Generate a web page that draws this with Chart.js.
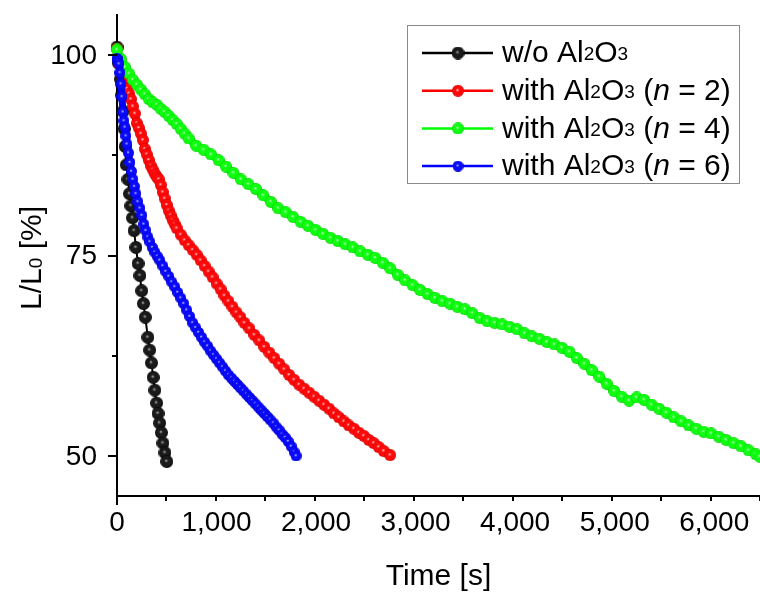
<!DOCTYPE html>
<html>
<head>
<meta charset="utf-8">
<script src="https://cdn.jsdelivr.net/npm/chart.js@4.4.1/dist/chart.umd.min.js"></script>
<style>
  html, body { margin: 0; padding: 0; background: #fff; }
  #wrap { width: 760px; height: 592px; }
</style>
</head>
<body>
<div id="wrap"><canvas id="decay" width="760" height="592"></canvas></div>
<script>
// time [s] vs relative luminance L/L0 [%]
const bareTime = [0, 18, 36, 50, 62, 72, 82, 94, 110, 126, 140, 156, 172, 190, 212, 230, 248, 266, 284, 310, 328, 346, 364, 380, 398, 412, 428, 446, 462, 482, 500];
const bareLum = [101.0, 99.0, 97.0, 95.0, 93.0, 90.8, 88.6, 86.3, 84.5, 82.7, 81.2, 79.7, 78.1, 76.0, 74.0, 72.5, 70.6, 69.0, 67.3, 64.8, 63.2, 61.6, 59.8, 58.2, 56.6, 55.3, 54.1, 52.9, 51.6, 50.4, 49.3];

const n2Time = [0, 20, 40, 60, 80, 100, 120, 140, 160, 180, 200, 220, 240, 260, 280, 300, 320, 340, 360, 380, 400, 420, 440, 460, 480, 500, 520, 540, 560, 580, 600,
  640, 680, 720, 760, 800, 840, 880, 920, 960, 1000, 1040, 1080, 1120, 1160, 1200, 1240, 1280,
  1330, 1380, 1430, 1480, 1530, 1580, 1630, 1680, 1730, 1780, 1830, 1880, 1930, 1980, 2030, 2080, 2130, 2180, 2230, 2280, 2330, 2380, 2430, 2480, 2530, 2580, 2630, 2680, 2744];
const n2Lum = [100.8, 98.9, 97.8, 97.0, 96.4, 95.8, 95.2, 94.5, 93.6, 92.7, 91.5, 90.9, 90.2, 89.4, 88.3, 87.6, 86.9, 86.2, 85.7, 85.2, 84.8, 84.5, 83.8, 82.9, 82.1, 81.3, 80.6, 80.0, 79.4, 78.9, 78.4,
  77.6, 76.9, 76.3, 75.7, 75.1, 74.4, 73.7, 73.0, 72.3, 71.5, 70.8, 70.0, 69.3, 68.6, 67.9, 67.3, 66.6,
  65.9, 65.1, 64.4, 63.6, 62.9, 62.2, 61.5, 60.8, 60.1, 59.5, 58.9, 58.4, 57.9, 57.4, 56.9, 56.4, 55.9, 55.3, 54.8, 54.3, 53.8, 53.4, 52.9, 52.5, 52.0, 51.6, 51.1, 50.6, 50.1];

const n4Time = [0, 40, 80, 120, 160, 200, 240, 280, 320, 360, 400, 440, 480, 520, 560, 600, 640, 680,
  720, 795, 870, 945, 1020, 1095, 1170, 1245, 1320, 1395, 1470, 1545, 1620, 1695, 1770, 1845, 1920, 1995, 2070, 2145,
  2220, 2295, 2370, 2445, 2520, 2595, 2670, 2745, 2820, 2895, 2970, 3045, 3120, 3195, 3270, 3345, 3420, 3495, 3570, 3645,
  3720, 3795, 3870, 3945, 4020, 4095, 4170, 4245, 4320, 4395, 4470, 4545, 4620, 4695, 4770, 4845, 4920, 4995, 5070, 5145,
  5220, 5295, 5370, 5445, 5520, 5595, 5670, 5745, 5820, 5895, 5970, 6045, 6120, 6195, 6270, 6345, 6420, 6460];
const n4Lum = [100.7, 99.5, 98.5, 97.7, 96.9, 96.3, 95.7, 95.1, 94.5, 94.1, 93.8, 93.3, 92.9, 92.4, 91.9, 91.4, 90.8, 90.2,
  89.6, 88.7, 88.2, 87.6, 86.9, 86.1, 85.3, 84.5, 83.9, 83.3, 82.5, 81.7, 80.9, 80.4, 79.8, 79.2, 78.7, 78.2, 77.7, 77.2,
  76.8, 76.4, 76.0, 75.5, 75.1, 74.7, 74.1, 73.4, 72.6, 71.9, 71.3, 70.7, 70.2, 69.7, 69.3, 69.0, 68.6, 68.3, 67.8, 67.2,
  66.8, 66.6, 66.4, 66.1, 65.8, 65.3, 64.9, 64.6, 64.2, 63.9, 63.5, 63.0, 62.2, 61.5, 60.7, 59.9, 59.0, 58.1, 57.4, 56.9,
  57.3, 57.0, 56.4, 55.9, 55.4, 54.8, 54.3, 53.8, 53.4, 53.0, 52.8, 52.4, 52.0, 51.6, 51.2, 50.7, 50.2, 49.9];

const n6Time = [0, 10, 20, 30, 40, 50, 60, 70, 80, 90, 100, 115, 130, 145, 160, 175, 190, 210, 230, 250, 270, 290, 310, 330, 355, 380, 405, 430,
  460, 490, 520, 550, 580, 610, 640, 670, 700, 730, 760, 790, 820, 850, 880, 910, 940, 970, 1000, 1030, 1060, 1090, 1120,
  1150, 1180, 1210, 1240, 1270, 1300, 1330, 1360, 1390, 1420, 1450, 1480, 1510, 1540, 1570, 1600, 1630, 1660, 1690, 1720, 1750, 1780, 1799];
const n6Lum = [99.6, 99.3, 98.9, 97.8, 96.4, 94.8, 92.9, 91.8, 91.0, 89.9, 88.9, 87.8, 86.6, 85.5, 84.5, 83.6, 82.7, 81.7, 80.9, 80.0, 78.9, 78.1, 77.3, 76.7, 76.0, 75.4, 74.9, 74.4,
  73.7, 73.0, 72.4, 71.7, 71.1, 70.4, 69.7, 69.0, 68.2, 67.4, 66.6, 66.0, 65.4, 64.8, 64.2, 63.7, 63.1, 62.6, 62.1, 61.6, 61.1, 60.6, 60.1,
  59.7, 59.3, 58.9, 58.5, 58.1, 57.7, 57.3, 56.9, 56.5, 56.1, 55.7, 55.3, 54.9, 54.5, 54.1, 53.6, 53.2, 52.7, 52.3, 51.8, 51.2, 50.5, 50.0];

// axis ranges and labelled ticks
const xMax = 6460;
const xLabelled = [0, 1000, 2000, 3000, 4000, 5000, 6000];
const yLabelled = [50, 75, 100];

// legend text pieces: [text, kind] where kind is '' | 'sub' | 'it'
const seriesLabels = [
  [['w/o Al', ''], ['2', 'sub'], ['O', ''], ['3', 'sub']],
  [['with Al', ''], ['2', 'sub'], ['O', ''], ['3', 'sub'], [' (', ''], ['n', 'it'], [' = 2)', '']],
  [['with Al', ''], ['2', 'sub'], ['O', ''], ['3', 'sub'], [' (', ''], ['n', 'it'], [' = 4)', '']],
  [['with Al', ''], ['2', 'sub'], ['O', ''], ['3', 'sub'], [' (', ''], ['n', 'it'], [' = 6)', '']]
];
const xTitle = [['Time [s]', '']];
const yTitle = [['L/L', ''], ['0', 'sub'], [' [%]', '']];

const FONT = '"Liberation Sans", Arial, sans-serif';

// shaded ball used as point marker
function ball(d, base, light, dark) {
  const c = document.createElement('canvas');
  c.width = c.height = d;
  const g = c.getContext('2d');
  const r = d / 2;
  const grad = g.createRadialGradient(r * 0.9, r * 0.85, 0, r, r, r);
  grad.addColorStop(0, light);
  grad.addColorStop(0.3, base);
  grad.addColorStop(0.78, base);
  grad.addColorStop(1, dark);
  g.fillStyle = grad;
  g.beginPath();
  g.arc(r, r, r, 0, Math.PI * 2);
  g.fill();
  return c;
}

// the dense series get a wide line under the balls so the trace reads as one band
const styles = [
  { line: '#000000', width: 2, ball: ball(13, '#1a1a1a', '#b4b4b4', '#000000'), order: 3 },
  { line: '#ff0000', width: 8, ball: ball(12, '#ff0a0a', '#ffe0e0', '#d00000'), order: 2 },
  { line: '#00ff00', width: 8, ball: ball(12, '#10ff10', '#d0ffd0', '#00d000'), order: 1 },
  { line: '#0000ff', width: 7, ball: ball(11, '#0a0aff', '#e8e8ff', '#0000c0'), order: 0 }
];

const series = [[bareTime, bareLum], [n2Time, n2Lum], [n4Time, n4Lum], [n6Time, n6Lum]];

function richText(ctx, x, y, parts, size, dryRun) {
  let cx = x;
  for (const [txt, kind] of parts) {
    const s = kind === 'sub' ? Math.round(size * 0.64) : size;
    ctx.font = (kind === 'it' ? 'italic ' : '') + s + 'px ' + FONT;
    if (!dryRun) ctx.fillText(txt, cx, y + (kind === 'sub' ? size * 0.03 : 0));
    cx += ctx.measureText(txt).width;
  }
  return cx - x;
}

const withCommas = v => String(v).replace(/\B(?=(\d{3})+(?!\d))/g, ',');

const decor = {
  id: 'decor',
  afterDraw(chart) {
    const ctx = chart.ctx;
    const xs = chart.scales.x, ys = chart.scales.y;
    ctx.save();
    // tick marks: long for labelled ticks, short for the ones in between
    ctx.strokeStyle = '#000';
    ctx.lineWidth = 2;
    xs.ticks.forEach(t => {
      const px = Math.round(xs.getPixelForValue(t.value));
      const len = xLabelled.includes(t.value) ? 9 : 5;
      ctx.beginPath(); ctx.moveTo(px, xs.top); ctx.lineTo(px, xs.top + len); ctx.stroke();
    });
    ys.ticks.forEach(t => {
      const py = Math.round(ys.getPixelForValue(t.value));
      const len = yLabelled.includes(t.value) ? 9 : 5;
      ctx.beginPath(); ctx.moveTo(ys.right, py); ctx.lineTo(ys.right - len, py); ctx.stroke();
    });

    // tick labels
    ctx.fillStyle = '#000';
    ctx.font = '28px ' + FONT;
    ctx.textBaseline = 'middle';
    ctx.textAlign = 'center';
    xLabelled.forEach(v => ctx.fillText(withCommas(v), xs.getPixelForValue(v), 523));
    ctx.textAlign = 'right';
    yLabelled.forEach(v => ctx.fillText(String(v), 97, ys.getPixelForValue(v) + 1));

    // axis titles
    ctx.textAlign = 'left';
    ctx.textBaseline = 'alphabetic';
    const ca = chart.chartArea;
    const w = richText(ctx, 0, 0, xTitle, 30, true);
    richText(ctx, (ca.left + ca.right) / 2 - w / 2, 585, xTitle, 30);
    ctx.save();
    ctx.translate(41, 258);
    ctx.rotate(-Math.PI / 2);
    const wy = richText(ctx, 0, 0, yTitle, 30, true);
    richText(ctx, -wy / 2, 0, yTitle, 30);
    ctx.restore();

    // legend box
    const bx = 407, by = 25, bw = 332, bh = 158;
    ctx.fillStyle = '#fff';
    ctx.fillRect(bx, by, bw, bh);
    ctx.strokeStyle = '#8a8a8a';
    ctx.lineWidth = 1;
    ctx.strokeRect(bx + 0.5, by + 0.5, bw, bh);
    seriesLabels.forEach((parts, i) => {
      const cy = 53 + i * 37.7;
      ctx.strokeStyle = styles[i].line;
      ctx.lineWidth = 2.5;
      ctx.beginPath(); ctx.moveTo(422, cy); ctx.lineTo(493, cy); ctx.stroke();
      const b = styles[i].ball;
      ctx.drawImage(b, 458 - b.width / 2, cy - b.height / 2);
      ctx.fillStyle = '#000';
      ctx.textBaseline = 'middle';
      richText(ctx, 502, cy + 1, parts, 30);
    });
    ctx.restore();
  }
};

new Chart(document.getElementById('decay'), {
  type: 'scatter',
  data: {
    datasets: series.map(([t, v], i) => ({
      label: seriesLabels[i].map(p => p[0]).join(''),
      data: t.map((x, k) => ({ x: x, y: v[k] })),
      showLine: true,
      borderColor: styles[i].line,
      borderWidth: styles[i].width,
      borderCapStyle: 'round',
      borderJoinStyle: 'round',
      pointStyle: styles[i].ball,
      pointRadius: 5,
      clip: false,
      order: styles[i].order
    }))
  },
  options: {
    responsive: false,
    animation: false,
    events: [],
    layout: { autoPadding: false, padding: { top: 15, right: 0, bottom: 0, left: 0 } },
    plugins: { legend: { display: false }, tooltip: { enabled: false } },
    scales: {
      x: {
        type: 'linear',
        min: 0,
        max: xMax,
        afterFit: s => { s.height = 96; },
        grid: { display: false, drawTicks: false },
        border: { display: true, color: '#000', width: 2 },
        ticks: { display: false, stepSize: 500, includeBounds: false }
      },
      y: {
        min: 45,
        max: 105,
        afterFit: s => { s.width = 117; },
        grid: { display: false, drawTicks: false },
        border: { display: true, color: '#000', width: 2 },
        ticks: { display: false, stepSize: 12.5, includeBounds: false }
      }
    }
  },
  plugins: [decor]
});
</script>
</body>
</html>
